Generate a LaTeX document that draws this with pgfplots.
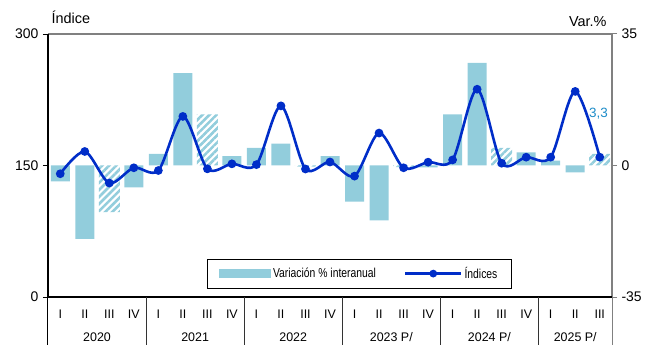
\documentclass[border=0pt]{standalone}
\usepackage{pgfplots}
\pgfplotsset{compat=1.18}
\usepackage{fontspec}
\setmainfont{Liberation Sans}
\usetikzlibrary{patterns.meta}
\definecolor{barcol}{RGB}{146,205,220}
\definecolor{linecol}{RGB}{0,45,200}
\definecolor{lblcol}{RGB}{30,140,200}
\definecolor{axgray}{RGB}{128,128,128}
\pgfplotsset{
  linelegend/.style={legend image code/.code={\draw[linecol, line width=2.6bp, mark=*, mark size=2.5bp, mark options={fill=linecol, solid}, mark repeat=2, mark phase=2] plot coordinates {(0bp,0bp)(28bp,0bp)(56bp,0bp)};}},
  barlegend/.style={legend image code/.code={\fill[barcol] (0bp,-4bp) rectangle (51bp,4bp);}}
}
\begin{document}
\begin{tikzpicture}
\pgfplotsset{every axis/.append style={scale only axis, width=564bp, height=263bp,
  xmin=-0.5, xmax=22.5, clip=false,
  /pgf/number format/assume math mode=true,
  tick label style={font=\fontsize{14}{16}\selectfont},
  tick align=outside, major tick length=5bp}}
% ---- bars: variation % (right axis)
\begin{axis}[ymin=-35, ymax=35,
  axis x line=none, axis y line*=right,
  ytick={-35,0,35}, ytick pos=right, yticklabel pos=right,
  y axis line style={axgray, line width=1.5bp, -},
  ytick style={axgray, line width=1bp},
  yticklabel style={xshift=1bp}]
\addplot[ybar, bar width=19bp, bar shift=0pt, fill=barcol, draw=none] coordinates {
 (0,-4.2)(1,-19.5)(3,-5.8)(4,3.1)(5,24.6)(7,2.5)(8,4.7)(9,5.8)(11,2.5)
 (12,-9.6)(13,-14.6)(15,-0.5)(16,13.6)(17,27.3)(19,3.5)(20,1.3)(21,-1.8)};
\addplot[ybar, bar width=21bp, bar shift=0pt, draw=none,
  pattern={Lines[angle=45,distance=5bp,line width=2.6bp]}, pattern color=barcol] coordinates {
 (2,-12.4)(6,13.6)(10,-0.3)(14,-0.4)(18,4.7)(22,3.1)};
\node[text=lblcol, font=\fontsize{13.5}{15}\selectfont] at (axis cs:21.95,13.8) {3,3};
\node[anchor=east, font=\fontsize{14.5}{16}\selectfont] at (rel axis cs:1,1) [xshift=-2bp, yshift=12bp] {Var.\%};
\end{axis}
% ---- line: index (left axis)
\begin{axis}[ymin=0, ymax=300,
  axis y line*=left, axis x line*=bottom,
  ytick={0,150,300}, ytick pos=left, yticklabel pos=left,
  axis line style={black, line width=1.5bp, -},
  ytick style={black, line width=1bp},
  yticklabel style={xshift=-1bp},
  xtick={0,...,22},
  xticklabels={I,II,III,IV,I,II,III,IV,I,II,III,IV,I,II,III,IV,I,II,III,IV,I,II,III},
  xtick style={draw=none},
  xticklabel style={yshift=-4bp, font=\fontsize{12.5}{14}\selectfont},
  legend style={at={(0.552,0.089)}, anchor=center, legend columns=2,
    draw=black, line width=0.8bp, inner xsep=12bp, inner ysep=6bp,
    font=\fontsize{13}{15}\selectfont,
    /tikz/every even column/.append style={column sep=26bp}},
  legend cell align=left]
\addlegendimage{barlegend}
\addlegendentry{\scalebox{0.8}[1]{Variación \% interanual}}
\addplot[linecol, line width=2.6bp, smooth, tension=0.5, mark=*, mark size=3bp,
  mark options={fill=linecol, solid}, linelegend]
 coordinates {
 (0,140.6)(1,166)(2,130)(3,147.4)(4,144.3)(5,206)(6,146.2)(7,151.9)
 (8,151)(9,218)(10,146)(11,154)(12,137.9)(13,187)(14,147.4)(15,153.8)
 (16,156.4)(17,237)(18,152.6)(19,159.5)(20,159.5)(21,234.5)(22,159.5)};
\addlegendentry{\scalebox{0.8}[1]{Índices}}
\draw[axgray, line width=1.5bp] (rel axis cs:0,1) -- (rel axis cs:1,1);
\draw[black, line width=1.5bp] (rel axis cs:0,0) -- (rel axis cs:0,1);
\draw[black, line width=1bp] (axis cs:-0.5,0) -- ++(0bp,-48bp);
\draw[axgray, line width=1bp] (axis cs:22.5,0) -- ++(0bp,-48bp);
\pgfplotsinvokeforeach{3.5,7.5,11.5,15.5,19.5}{\draw[black!80, line width=0.8bp] (axis cs:#1,0) -- ++(0bp,-48bp);}
\node[font=\fontsize{12.5}{14}\selectfont] at (axis cs:1.5,0) [yshift=-40bp] {2020};
\node[font=\fontsize{12.5}{14}\selectfont] at (axis cs:5.5,0) [yshift=-40bp] {2021};
\node[font=\fontsize{12.5}{14}\selectfont] at (axis cs:9.5,0) [yshift=-40bp] {2022};
\node[font=\fontsize{12.5}{14}\selectfont] at (axis cs:13.5,0) [yshift=-40bp] {2023 P/};
\node[font=\fontsize{12.5}{14}\selectfont] at (axis cs:17.5,0) [yshift=-40bp] {2024 P/};
\node[font=\fontsize{12.5}{14}\selectfont] at (axis cs:21,0) [yshift=-40bp] {2025 P/};
\node[anchor=west, font=\fontsize{14.5}{16}\selectfont] at (rel axis cs:0,1) [xshift=0bp, yshift=17bp] {Índice};
\path[draw=none] (rel axis cs:0,0) ++(-48bp,-48bp) rectangle (rel axis cs:1,1);
\path[draw=none] (rel axis cs:1,1) ++(36bp,34bp) rectangle (rel axis cs:0,0);
\end{axis}
\end{tikzpicture}
\end{document}
